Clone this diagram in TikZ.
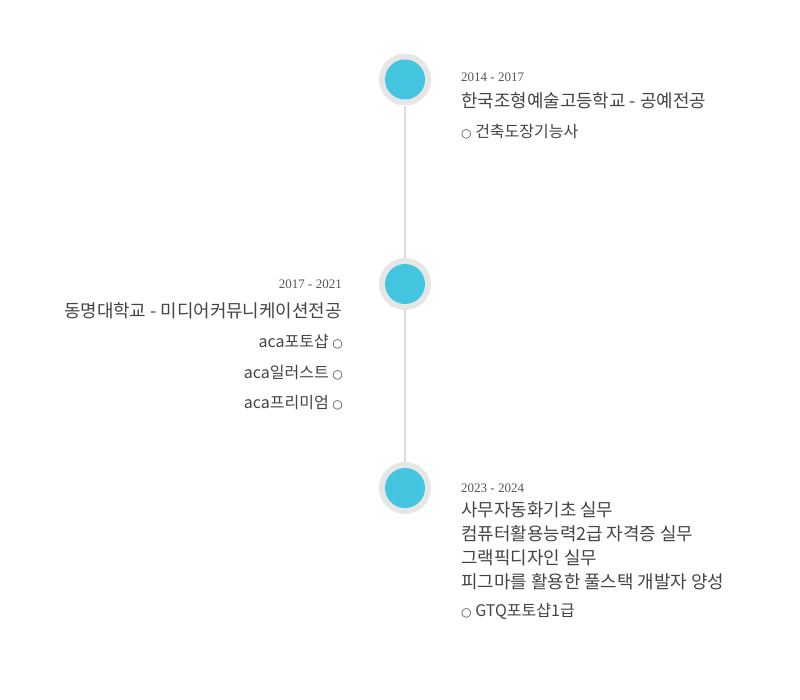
\documentclass[tikz,border=0pt]{standalone}
\usepackage{fontspec}
\setmainfont{Liberation Serif}
\newfontfamily\krfont{Noto Sans CJK KR}
\newfontfamily\symfont{DejaVu Sans}
\definecolor{ringgray}{HTML}{E6E6E6}
\definecolor{dotcyan}{HTML}{43C5DF}
\definecolor{linegray}{HTML}{DDDDDD}
\definecolor{txtgray}{HTML}{444444}
\definecolor{dategray}{HTML}{555555}
\newcommand{\bul}{{\symfont\fontsize{12}{12}\selectfont ○}}
\begin{document}
\begin{tikzpicture}[x=1pt,y=-1pt,
  ring/.style={circle, fill=ringgray, minimum size=52pt, inner sep=0pt},
  dot/.style={circle, fill=dotcyan, minimum size=40pt, inner sep=0pt},
  tline/.style={draw=linegray, line width=2pt},
  datetxt/.style={font=\fontsize{13}{15}\selectfont, text=dategray, inner sep=0pt},
  titletxt/.style={font=\krfont\fontsize{17.9}{20}\selectfont, text=txtgray, inner sep=0pt},
  itemtxt/.style={font=\krfont\fontsize{16}{18}\selectfont, text=txtgray, inner sep=0pt}]
\useasboundingbox (0,0) rectangle (800,700);
% timeline circles
\node[ring] (r1) at (405,79.5) {};
\node[ring] (r2) at (405,284) {};
\node[ring] (r3) at (405,488) {};
\draw[tline] (r1.south) -- (r2.north);
\draw[tline] (r2.south) -- (r3.north);
\node[dot] (d1) at (r1) {};
\node[dot] (d2) at (r2) {};
\node[dot] (d3) at (r3) {};
% block 1
\node[datetxt, anchor=base west] (t1d) at (461,82) {2014 - 2017};
\node[titletxt, anchor=base west] (t1a) at (461,108) {한국조형예술고등학교 - 공예전공};
\node[itemtxt, anchor=base west] (t1i) at (461,138) {\bul\ 건축도장기능사};
% block 2
\node[datetxt, anchor=base east] (t2d) at (342,289) {2017 - 2021};
\node[titletxt, anchor=base east] (t2a) at (342,318) {동명대학교 - 미디어커뮤니케이션전공};
\node[itemtxt, anchor=base east] (t2i1) at (343,348) {aca포토샵 \bul};
\node[itemtxt, anchor=base east] (t2i2) at (343,378) {aca일러스트 \bul};
\node[itemtxt, anchor=base east] (t2i3) at (343,408) {aca프리미엄 \bul};
% block 3
\node[datetxt, anchor=base west] (t3d) at (461,492) {2023 - 2024};
\node[titletxt, anchor=base west] (t3a) at (461,516) {사무자동화기초 실무};
\node[titletxt, anchor=base west] (t3b) at (461,540) {컴퓨터활용능력2급 자격증 실무};
\node[titletxt, anchor=base west] (t3c) at (461,564) {그랙픽디자인 실무};
\node[titletxt, anchor=base west] (t3e) at (461,588) {피그마를 활용한 풀스택 개발자 양성};
\node[itemtxt, anchor=base west] (t3i) at (461,616) {\bul\ GTQ포토샵1급};
\end{tikzpicture}
\end{document}
